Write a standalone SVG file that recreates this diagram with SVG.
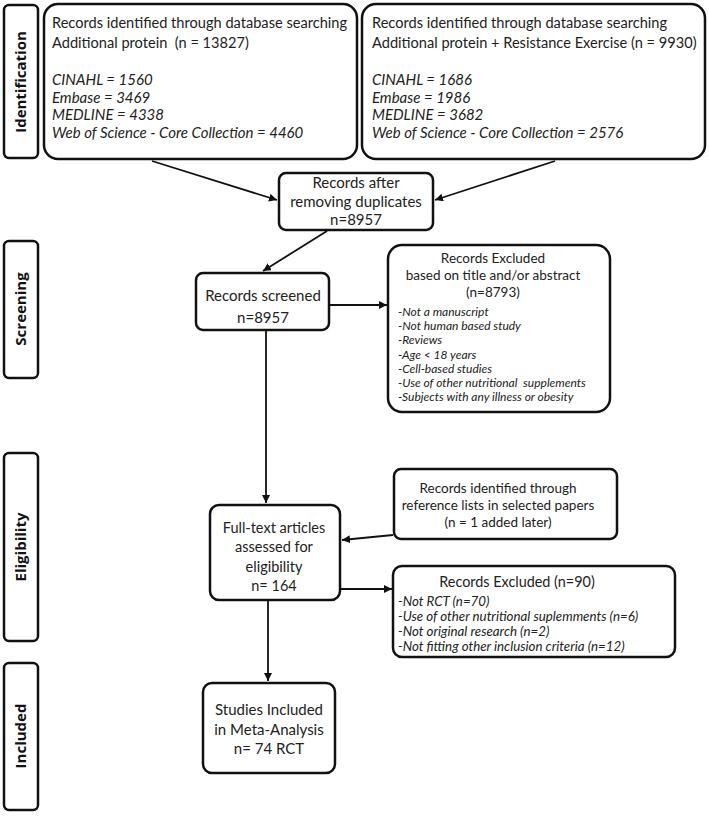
<svg xmlns="http://www.w3.org/2000/svg" width="709" height="816" viewBox="0 0 709 816">
<style>
.box{fill:#fff;stroke:#111;stroke-width:2.5}
.t{font-family:Lato,"Liberation Sans",sans-serif;font-size:15px;fill:#222}
.c{text-anchor:middle}
.i{font-style:italic}
.s{font-size:12px}
.m{font-size:13.3px}
.lab{font-family:"Open Sans","Liberation Sans",sans-serif;font-weight:bold;font-size:15px;fill:#111;text-anchor:middle}
.ln{stroke:#111;stroke-width:1.8;fill:none;marker-end:url(#ah)}
</style>
<defs>
<marker id="ah" viewBox="0 0 10 10" refX="10" refY="5" markerWidth="8" markerHeight="8" markerUnits="userSpaceOnUse" orient="auto"><path d="M0,0 L10,5 L0,10 z" fill="#111"/></marker>
</defs>
<rect width="709" height="816" fill="#fff"/>
<g id="label-identification"><rect class="box" x="4" y="5" width="34" height="153" rx="5"/><text class="lab" transform="translate(26,82) rotate(-90)">Identification</text></g>
<g id="label-screening"><rect class="box" x="4" y="241" width="34" height="137" rx="5"/><text class="lab" transform="translate(26,309) rotate(-90)">Screening</text></g>
<g id="label-eligibility"><rect class="box" x="4" y="453" width="34" height="188" rx="5"/><text class="lab" transform="translate(26,547) rotate(-90)">Eligibility</text></g>
<g id="label-included"><rect class="box" x="4" y="663" width="34" height="147" rx="5"/><text class="lab" transform="translate(26,736) rotate(-90)">Included</text></g>

<g id="db-protein"><rect class="box" x="44" y="4" width="313" height="155" rx="14"/>
<text class="t" x="52" y="28" style="font-size:14.6px">Records identified through database searching</text>
<text class="t" x="52" y="48" style="font-size:14.6px" xml:space="preserve">Additional protein  (n = 13827)</text>
<text class="t i" x="52" y="85">CINAHL = 1560</text>
<text class="t i" x="52" y="103">Embase = 3469</text>
<text class="t i" x="52" y="120">MEDLINE = 4338</text>
<text class="t i" x="52" y="138">Web of Science - Core Collection = 4460</text></g>

<g id="db-protein-re"><rect class="box" x="362" y="4" width="343" height="155" rx="14"/>
<text class="t" x="372" y="28" style="font-size:14.6px">Records identified through database searching</text>
<text class="t" x="372" y="48" style="font-size:14.6px">Additional protein + Resistance Exercise (n = 9930)</text>
<text class="t i" x="372" y="85">CINAHL = 1686</text>
<text class="t i" x="372" y="103">Embase = 1986</text>
<text class="t i" x="372" y="120">MEDLINE = 3682</text>
<text class="t i" x="372" y="138">Web of Science - Core Collection = 2576</text></g>

<g id="duplicates"><rect class="box" x="279" y="173" width="154" height="57" rx="7"/>
<text class="t c" x="356" y="188">Records after</text>
<text class="t c" x="356" y="207">removing duplicates</text>
<text class="t c" x="356" y="225">n=8957</text></g>

<g id="screened"><rect class="box" x="196" y="273" width="133" height="57" rx="7"/>
<text class="t c" x="263" y="301">Records screened</text>
<text class="t c" x="263" y="323">n=8957</text></g>

<g id="excluded-title"><rect class="box" x="388" y="245" width="222" height="167" rx="14"/>
<text class="t c" x="493" y="263" style="font-size:13.5px">Records Excluded</text>
<text class="t c" x="493" y="280" style="font-size:13.5px">based on title and/or abstract</text>
<text class="t c" x="493" y="297" style="font-size:13.5px">(n=8793)</text>
<text class="t i s" x="398" y="316">-Not a manuscript</text>
<text class="t i s" x="398" y="330">-Not human based study</text>
<text class="t i s" x="398" y="344">-Reviews</text>
<text class="t i s" x="398" y="359">-Age &lt; 18 years</text>
<text class="t i s" x="398" y="373">-Cell-based studies</text>
<text class="t i s" x="398" y="387" xml:space="preserve">-Use of other nutritional  supplements</text>
<text class="t i s" x="398" y="401">-Subjects with any illness or obesity</text></g>

<g id="reference-lists"><rect class="box" x="394" y="469" width="223" height="70" rx="7"/>
<text class="t c" x="498" y="493" style="font-size:13.5px">Records identified through</text>
<text class="t c" x="498" y="510" style="font-size:13.5px">reference lists in selected papers</text>
<text class="t c" x="498" y="527" style="font-size:13.5px">(n = 1 added later)</text></g>

<g id="fulltext"><rect class="box" x="210" y="505" width="130" height="95" rx="9"/>
<text class="t c" x="274" y="533" style="font-size:14.5px">Full-text articles</text>
<text class="t c" x="274" y="552" style="font-size:14.5px">assessed for</text>
<text class="t c" x="274" y="572" style="font-size:14.5px">eligibility</text>
<text class="t c" x="274" y="591" style="font-size:14.5px">n= 164</text></g>

<g id="excluded-fulltext"><rect class="box" x="393" y="566" width="282" height="91" rx="9"/>
<text class="t c" x="517" y="587" style="font-size:14.4px">Records Excluded (n=90)</text>
<text class="t i m" x="398" y="606">-Not RCT (n=70)</text>
<text class="t i m" x="398" y="621">-Use of other nutritional suplemments (n=6)</text>
<text class="t i m" x="398" y="636">-Not original research (n=2)</text>
<text class="t i m" x="398" y="651">-Not fitting other inclusion criteria (n=12)</text></g>

<g id="included"><rect class="box" x="203" y="683" width="132" height="90" rx="9"/>
<text class="t c" x="269" y="715">Studies Included</text>
<text class="t c" x="269" y="735">in Meta-Analysis</text>
<text class="t c" x="269" y="754">n= 74 RCT</text></g>

<g id="connectors">
<line class="ln" x1="152" y1="161" x2="277" y2="200"/>
<line class="ln" x1="555" y1="161" x2="435" y2="200"/>
<line class="ln" x1="327" y1="231" x2="263" y2="271"/>
<line class="ln" x1="330" y1="305" x2="387" y2="305"/>
<line class="ln" x1="266" y1="331" x2="266" y2="503"/>
<line class="ln" x1="393" y1="535" x2="342" y2="540"/>
<line class="ln" x1="341" y1="589" x2="392" y2="589"/>
<line class="ln" x1="268" y1="601" x2="268" y2="681"/>
</g>
</svg>
